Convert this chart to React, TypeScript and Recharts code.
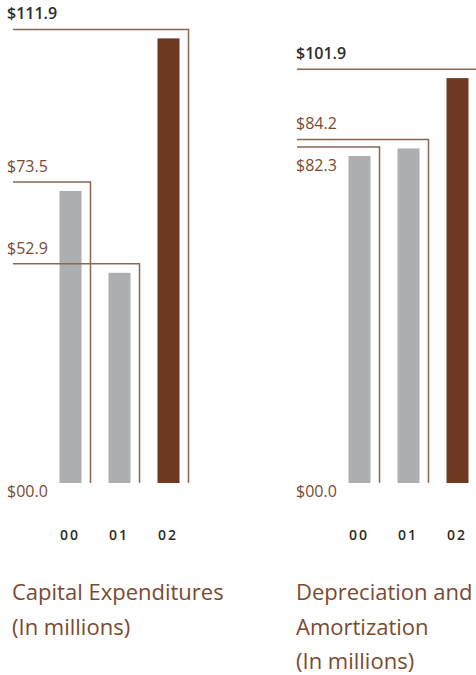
import { Bar, BarChart, Cell, XAxis, YAxis } from 'recharts'

const YEARS = ['00', '01', '02']
const CAPITAL_EXPENDITURES = [73.5, 52.9, 111.9]
const DEPRECIATION = [82.3, 84.2, 101.9]
const CAPEX_TITLE = ['Capital Expenditures', '(In millions)']
const DEPRECIATION_TITLE = ['Depreciation and', 'Amortization', '(In millions)']
const ZERO_LABEL = '$00.0'

const FONT = '"Open Sans", "Noto Sans", sans-serif'
const BROWN = '#7a4a30'
const LINE = '#8c6652'
const GRAY_BAR = '#adaeb0'
const DARK_BAR = '#6b3a20'

type TPanelProps = {
  left: number
  values: number[]
  title: string[]
  lineStart: number
  textX: number
  titleX: number
  belowLabels?: number[]
}

const CHART_WIDTH = 240

function formatMoney(value: number) {
  return `$${value.toFixed(1)}`
}

function LeaderBar(props: any) {
  const { x, y, width, height, fill, value, lineStart, textX, below, strong } = props
  const lineY = y - 9
  const right = x + width + 9
  const base = y + height
  return (
    <g>
      <rect x={x} y={y} width={width} height={height} fill={fill} />
      <path d={`M${lineStart},${lineY} H${right} V${base}`} fill="none" stroke={LINE} strokeWidth={1.5} />
      <text
        x={textX}
        y={below ? lineY + 24 : lineY - 10}
        fontFamily={FONT}
        fontSize={16}
        fontWeight={strong ? 600 : 400}
        fill={strong ? '#2b2b2b' : BROWN}
      >
        {formatMoney(Array.isArray(value) ? value[1] : value)}
      </text>
    </g>
  )
}

function YearTick({ x, y, payload }: any) {
  return (
    <text x={x} y={y + 49} textAnchor="middle" fontFamily={FONT} fontSize={14} fontWeight={600} letterSpacing={2} fill="#2b2b2b">
      {payload.value}
    </text>
  )
}

function Panel({ left, values, title, lineStart, textX, titleX, belowLabels = [] }: TPanelProps) {
  const data = YEARS.map((year, index) => ({ year, value: values[index] }))
  const max = Math.max(...values)
  return (
    <div style={{ position: 'absolute', left, top: 0, width: CHART_WIDTH }}>
      <BarChart width={CHART_WIDTH} height={560} data={data} margin={{ top: 38, right: CHART_WIDTH - 192.5, bottom: 0, left: 7 }}>
        <YAxis
          domain={[0, 112]}
          ticks={[0]}
          width={38.5}
          axisLine={false}
          tickLine={false}
          tick={({ y }: any) => (
            <text x={textX} y={y + 14} fontFamily={FONT} fontSize={16} fill={BROWN}>
              {ZERO_LABEL}
            </text>
          )}
        />
        <XAxis dataKey="year" height={77} axisLine={false} tickLine={false} tick={<YearTick />} interval={0} />
        <Bar
          dataKey="value"
          barSize={22}
          isAnimationActive={false}
          shape={(p: any) => (
            <LeaderBar
              {...p}
              lineStart={lineStart}
              textX={textX}
              below={belowLabels.includes(p.index)}
              strong={p.payload?.value === max}
            />
          )}
        >
          {data.map((entry, index) => (
            <Cell key={entry.year} fill={index === YEARS.length - 1 ? DARK_BAR : GRAY_BAR} />
          ))}
        </Bar>
      </BarChart>
      <div
        style={{
          position: 'absolute',
          left: titleX,
          top: 574,
          fontFamily: FONT,
          fontSize: 22,
          lineHeight: '34.5px',
          color: BROWN,
          whiteSpace: 'nowrap',
        }}
      >
        {title.map((line) => (
          <div key={line}>{line}</div>
        ))}
      </div>
    </div>
  )
}

export default function App() {
  return (
    <div style={{ position: 'absolute', left: 0, top: 0, width: 476, height: 675, overflow: 'hidden', background: '#fff' }}>
      <Panel left={0} values={CAPITAL_EXPENDITURES} title={CAPEX_TITLE} lineStart={13} textX={7} titleX={12} />
      <Panel left={289} values={DEPRECIATION} title={DEPRECIATION_TITLE} lineStart={8} textX={7} titleX={7} belowLabels={[0]} />
    </div>
  )
}
